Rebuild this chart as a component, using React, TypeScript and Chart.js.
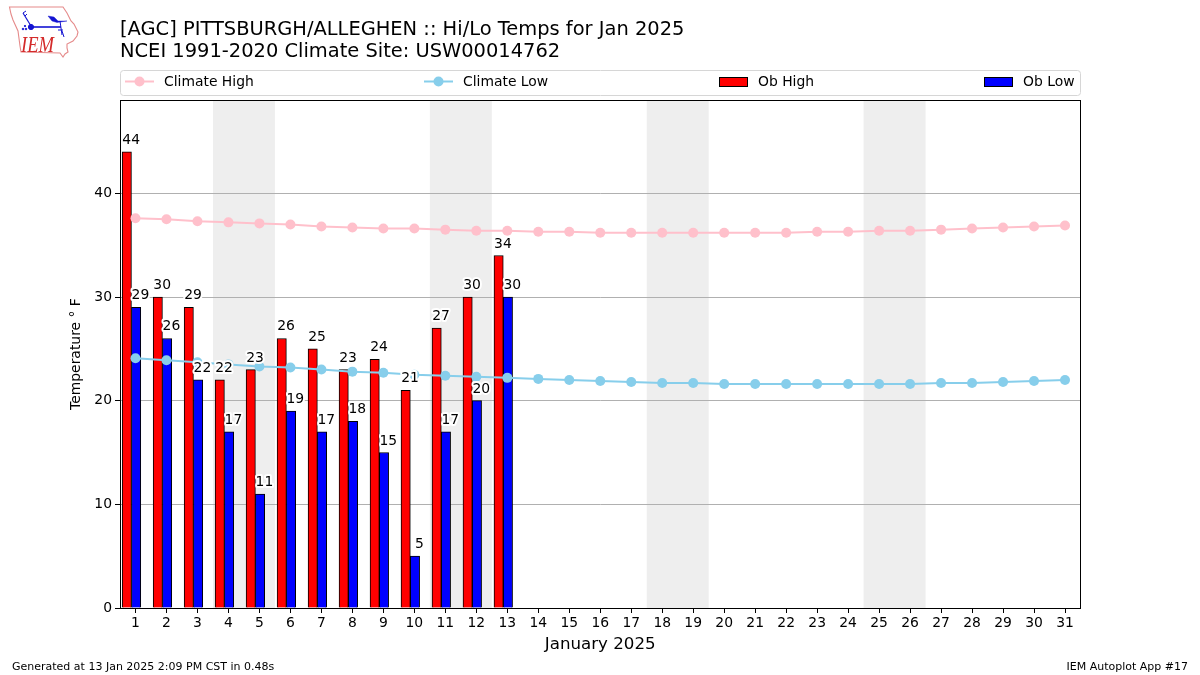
import React, { useEffect, useRef } from "react";
import { Chart, registerables } from "chart.js";

Chart.register(...registerables);

const FONT = "'DejaVu Sans'";

const days = [1, 2, 3, 4, 5, 6, 7, 8, 9, 10, 11, 12, 13, 14, 15, 16, 17, 18, 19, 20, 21, 22, 23, 24, 25, 26, 27, 28, 29, 30, 31];
const obDays = [1, 2, 3, 4, 5, 6, 7, 8, 9, 10, 11, 12, 13];
const obHigh = [44, 30, 29, 22, 23, 26, 25, 23, 24, 21, 27, 30, 34];
const obLow = [29, 26, 22, 17, 11, 19, 17, 18, 15, 5, 17, 20, 30];
const climateHigh = [37.6, 37.5, 37.3, 37.2, 37.1, 37.0, 36.8, 36.7, 36.6, 36.6, 36.5, 36.4, 36.4, 36.3, 36.3, 36.2, 36.2, 36.2, 36.2, 36.2, 36.2, 36.2, 36.3, 36.3, 36.4, 36.4, 36.5, 36.6, 36.7, 36.8, 36.9];
const climateLow = [24.1, 23.9, 23.7, 23.5, 23.3, 23.2, 23.0, 22.8, 22.7, 22.5, 22.4, 22.3, 22.2, 22.1, 22.0, 21.9, 21.8, 21.7, 21.7, 21.6, 21.6, 21.6, 21.6, 21.6, 21.6, 21.6, 21.7, 21.7, 21.8, 21.9, 22.0];
const weekendSpans = [[3.5, 5.5], [10.5, 12.5], [17.5, 19.5], [24.5, 26.5]];
const titleLines = ["[AGC] PITTSBURGH/ALLEGHEN :: Hi/Lo Temps for Jan 2025", "NCEI 1991-2020 Climate Site: USW00014762"];
const xTitle = "January 2025";
const yTitle = "Temperature \u00B0 F";
const footerLeft = "Generated at 13 Jan 2025 2:09 PM CST in 0.48s";
const footerRight = "IEM Autoplot App #17";

const weekendPlugin = {
  id: "weekends",
  beforeDraw(chart: any) {
    const { ctx, chartArea: a, scales: { x } } = chart;
    ctx.save();
    ctx.fillStyle = "#eeeeee";
    weekendSpans.forEach(([s, e]) => {
      const l = x.getPixelForValue(s);
      ctx.fillRect(l, a.top, x.getPixelForValue(e) - l, a.bottom - a.top);
    });
    ctx.restore();
  },
};

const overlayPlugin = {
  id: "overlay",
  afterDatasetsDraw(chart: any) {
    const { ctx, scales: { x, y } } = chart;
    ctx.save();
    ctx.font = `13.9px ${FONT}`;
    ctx.textAlign = "center";
    ctx.textBaseline = "alphabetic";
    ctx.lineJoin = "round";
    const label = (d: number, v: number, off: number) => {
      const px = x.getPixelForValue(d + off);
      const py = y.getPixelForValue(v) - 8;
      ctx.strokeStyle = "#ffffff";
      ctx.lineWidth = 4;
      ctx.strokeText(String(v), px, py);
      ctx.fillStyle = "#000000";
      ctx.fillText(String(v), px, py);
    };
    obDays.forEach((d, i) => {
      label(d, obHigh[i], -0.14);
      label(d, obLow[i], 0.16);
    });
    ctx.restore();
  },
  afterDraw(chart: any) {
    const { ctx, data } = chart;
    ctx.save();
    // axes frame
    ctx.strokeStyle = "#000000";
    ctx.lineWidth = 1;
    ctx.strokeRect(120.5, 100.5, 960, 508);

    // legend frame
    ctx.strokeStyle = "#d6d6d6";
    ctx.fillStyle = "#ffffff";
    ctx.beginPath();
    ctx.roundRect(120.5, 70.5, 960, 25, 3);
    ctx.fill();
    ctx.stroke();

    const rowY = 81.5;
    const entries = [
      { ds: data.datasets[0], hx: 125, tx: 164 },
      { ds: data.datasets[1], hx: 424, tx: 463 },
      { ds: data.datasets[2], hx: 719, tx: 758 },
      { ds: data.datasets[3], hx: 984, tx: 1023 },
    ];
    ctx.font = `13.9px ${FONT}`;
    ctx.textAlign = "left";
    ctx.textBaseline = "middle";
    entries.forEach(({ ds, hx, tx }) => {
      if (ds.type === "line") {
        ctx.strokeStyle = ds.borderColor;
        ctx.lineWidth = 2;
        ctx.beginPath();
        ctx.moveTo(hx, rowY);
        ctx.lineTo(hx + 29, rowY);
        ctx.stroke();
        ctx.fillStyle = ds.borderColor;
        ctx.beginPath();
        ctx.arc(hx + 14.5, rowY, 5, 0, Math.PI * 2);
        ctx.fill();
      } else {
        ctx.fillStyle = ds.backgroundColor;
        ctx.strokeStyle = "#000000";
        ctx.lineWidth = 1;
        ctx.fillRect(hx + 0.5, 77.5, 28, 9);
        ctx.strokeRect(hx + 0.5, 77.5, 28, 9);
      }
      ctx.fillStyle = "#000000";
      ctx.fillText(ds.label, tx, rowY + 0.5);
    });

    // footer
    ctx.font = `11px ${FONT}`;
    ctx.textBaseline = "alphabetic";
    ctx.textAlign = "left";
    ctx.fillText(footerLeft, 12, 670);
    ctx.textAlign = "right";
    ctx.fillText(footerRight, 1188, 670);
    ctx.restore();
  },
};

function Logo() {
  return (
    <svg width={90} height={65} style={{ position: "absolute", left: 0, top: 0 }}>
      <path
        d="M9.5 7 L63 7 L65 10 L67 13 L71 21 L74 24 L78 32 L77 36 L73 41 L67 44 L67 48 L68 52 L65 54 L63 57 L60 53 L21 52 L20 46 L18 31 L13 20 L11 14 Z"
        fill="#ffffff"
        stroke="#e58a8a"
        strokeWidth={1.1}
      />
      <g stroke="#1414d2" fill="#1414d2">
        <line x1={31} y1={27} x2={61} y2={27} strokeWidth={1.6} />
        <line x1={31} y1={26} x2={23} y2={13} strokeWidth={1.2} />
        <line x1={23} y1={13} x2={26} y2={11} strokeWidth={1} />
        <line x1={25} y1={16} x2={27} y2={14} strokeWidth={1} />
        <circle cx={31} cy={27} r={2.6} />
        <path d="M48 16 L54 17 L58 21 L67 21 L57 22.5 L52 21 Z" strokeWidth={0.4} />
        <line x1={60} y1={21} x2={62} y2={35} strokeWidth={1} />
        <line x1={58} y1={30} x2={63} y2={30} strokeWidth={1} />
        <line x1={62} y1={31} x2={64} y2={37} strokeWidth={1} />
        <circle cx={25} cy={26} r={0.7} />
        <circle cx={23} cy={29} r={0.8} />
        <circle cx={26} cy={29} r={0.8} />
      </g>
      <text
        x={21}
        y={52}
        fill="#d42a2a"
        fontFamily="'Liberation Serif'"
        fontStyle="italic"
        fontSize={22.5}
        textLength={33}
        lengthAdjust="spacingAndGlyphs"
      >
        IEM
      </text>
    </svg>
  );
}

export default function App() {
  const ref = useRef<HTMLCanvasElement | null>(null);

  useEffect(() => {
    if (!ref.current) return;
    Chart.defaults.font.family = FONT;
    Chart.defaults.color = "#000000";
    const chart = new Chart(ref.current, {
      data: {
        datasets: [
          {
            type: "line",
            label: "Climate High",
            data: days.map((d, i) => ({ x: d, y: climateHigh[i] })),
            borderColor: "#ffc0cb",
            backgroundColor: "#ffc0cb",
            borderWidth: 2,
            pointRadius: 5,
            pointBorderWidth: 0,
            tension: 0,
            order: 1,
          },
          {
            type: "line",
            label: "Climate Low",
            data: days.map((d, i) => ({ x: d, y: climateLow[i] })),
            borderColor: "#87ceeb",
            backgroundColor: "#87ceeb",
            borderWidth: 2,
            pointRadius: 5,
            pointBorderWidth: 0,
            tension: 0,
            order: 0,
          },
          {
            type: "bar",
            label: "Ob High",
            data: obDays.map((d, i) => ({ x: d - 0.28, y: obHigh[i] })),
            backgroundColor: "#ff0000",
            borderColor: "#000000",
            borderWidth: 1,
            barThickness: 9.3,
            grouped: false,
            order: 3,
          },
          {
            type: "bar",
            label: "Ob Low",
            data: obDays.map((d, i) => ({ x: d + 0.02, y: obLow[i] })),
            backgroundColor: "#0000ff",
            borderColor: "#000000",
            borderWidth: 1,
            barThickness: 9.3,
            grouped: false,
            order: 2,
          },
        ],
      },
      options: {
        animation: false,
        responsive: false,
        layout: { padding: { left: 0, right: 119.5, top: 0, bottom: 0 } },
        plugins: {
          legend: { display: false },
          tooltip: { enabled: false },
          title: {
            display: true,
            text: titleLines,
            align: "start",
            fullSize: false,
            color: "#000000",
            font: { size: 19.45, weight: "normal", lineHeight: 1.14 },
            padding: { top: 19, bottom: 36.7 },
          },
        },
        scales: {
          x: {
            type: "linear",
            offset: false,
            min: 0.5,
            max: 31.5,
            afterBuildTicks: (s: any) => {
              s.ticks = days.map((value) => ({ value }));
            },
            afterFit: (s: any) => {
              s.height = 67;
            },
            grid: { offset: false, drawOnChartArea: false, tickColor: "#000000", tickLength: 5, tickWidth: 1 },
            border: { display: false },
            ticks: { autoSkip: false, maxRotation: 0, font: { size: 13.9 }, padding: 2 },
            title: { display: true, text: xTitle, font: { size: 16.67 }, padding: { top: 5, bottom: 20 } },
          },
          y: {
            type: "linear",
            min: 0,
            max: 49,
            afterFit: (s: any) => {
              s.width = 120;
            },
            grid: { color: "#b0b0b0", tickColor: "#000000", tickLength: 5, lineWidth: 1 },
            border: { display: false },
            ticks: { stepSize: 10, includeBounds: false, font: { size: 13.9 }, padding: 3 },
            title: { display: true, text: yTitle, font: { size: 13.9 }, padding: { top: 68, bottom: 0 } },
          },
        },
      } as any,
      plugins: [weekendPlugin, overlayPlugin],
    } as any);
    return () => chart.destroy();
  }, []);

  return (
    <div style={{ position: "absolute", left: 0, top: 0, width: 1200, height: 675, background: "#ffffff" }}>
      <canvas ref={ref} width={1200} height={675} style={{ display: "block" }} />
      <Logo />
    </div>
  );
}
